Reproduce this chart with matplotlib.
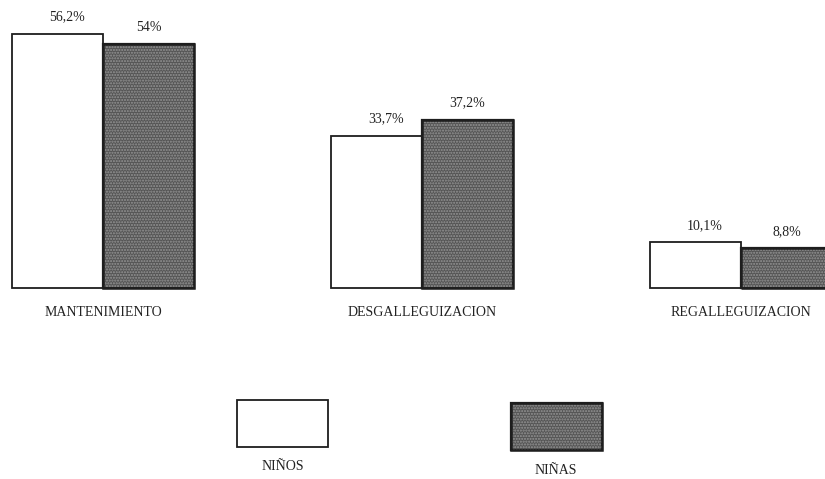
import matplotlib
matplotlib.use("Agg")
import matplotlib.pyplot as plt
from matplotlib.patches import Rectangle
import numpy as np

categories = ["MANTENIMIENTO", "DESGALLEGUIZACION", "REGALLEGUIZACION"]
ninos = [56.2, 33.7, 10.1]
ninas = [54.0, 37.2, 8.8]
value_labels_ninos = ["56,2%", "33,7%", "10,1%"]
value_labels_ninas = ["54%", "37,2%", "8,8%"]
legend_labels = ["NIÑOS", "NIÑAS"]

plt.rcParams["font.family"] = ["Liberation Serif", "DejaVu Serif"]

W, H = 825, 479
fig = plt.figure(figsize=(W / 100, H / 100), dpi=100)
fig.patch.set_facecolor("white")
ax = fig.add_axes([0, 0, 1, 1])
ax.set_axis_off()

x = np.arange(len(categories))
bw = 0.285
ax.set_xlim(-0.323, -0.323 + W / 319)
ax.set_ylim(-(H - 288) / 4.52, 288 / 4.52)

edge = "#1e1e1e"
dark = "#555555"
dots = "#959595"


def dotted_bars(xs, heights, **kw):
    ax.bar(xs, heights, width=bw, align="edge", color=dark, edgecolor=edge,
           linewidth=1.6, **kw)
    ax.bar(xs, heights, width=bw, align="edge", color="none", edgecolor=dots,
           linewidth=0, hatch="......", **kw)
    ax.bar(xs, heights, width=bw, align="edge", color="none", edgecolor=edge,
           linewidth=1.8, **kw)


ax.bar(x - bw, ninos, width=bw, align="edge", color="white", edgecolor=edge,
       linewidth=1.3)
dotted_bars(x, ninas)

for xi, v, lab in zip(x, ninos, value_labels_ninos):
    ax.text(xi - bw / 2 + 0.03, v + 2.3, lab, ha="center", va="bottom",
            fontsize=10, color="#222")
for xi, v, lab in zip(x, ninas, value_labels_ninas):
    ax.text(xi + bw / 2, v + 2.3, lab, ha="center", va="bottom",
            fontsize=10, color="#222")
for xi, cat in zip(x, categories):
    ax.text(xi, -4.0, cat, ha="center", va="top", fontsize=10, color="#222")

# Legend boxes drawn in figure pixel coordinates
def fig_rect(x0, y0, w, h, **kw):
    return Rectangle((x0 / W, 1 - (y0 + h) / H), w / W, h / H,
                     transform=fig.transFigure, **kw)

fig.patches.append(fig_rect(237, 400, 91, 47, facecolor="white",
                            edgecolor=edge, linewidth=1.3))
fig.patches.append(fig_rect(511, 403, 91, 47, facecolor=dark,
                            edgecolor=edge, linewidth=1.6))
fig.patches.append(fig_rect(511, 403, 91, 47, facecolor="none",
                            edgecolor=dots, linewidth=0, hatch="......"))
fig.patches.append(fig_rect(511, 403, 91, 47, facecolor="none",
                            edgecolor=edge, linewidth=1.8))
fig.text(283 / W, 1 - 467 / H, legend_labels[0], ha="center", va="center",
         fontsize=10, color="#222")
fig.text(556 / W, 1 - 471 / H, legend_labels[1], ha="center", va="center",
         fontsize=10, color="#222")

fig.savefig("out.png", dpi=100)
